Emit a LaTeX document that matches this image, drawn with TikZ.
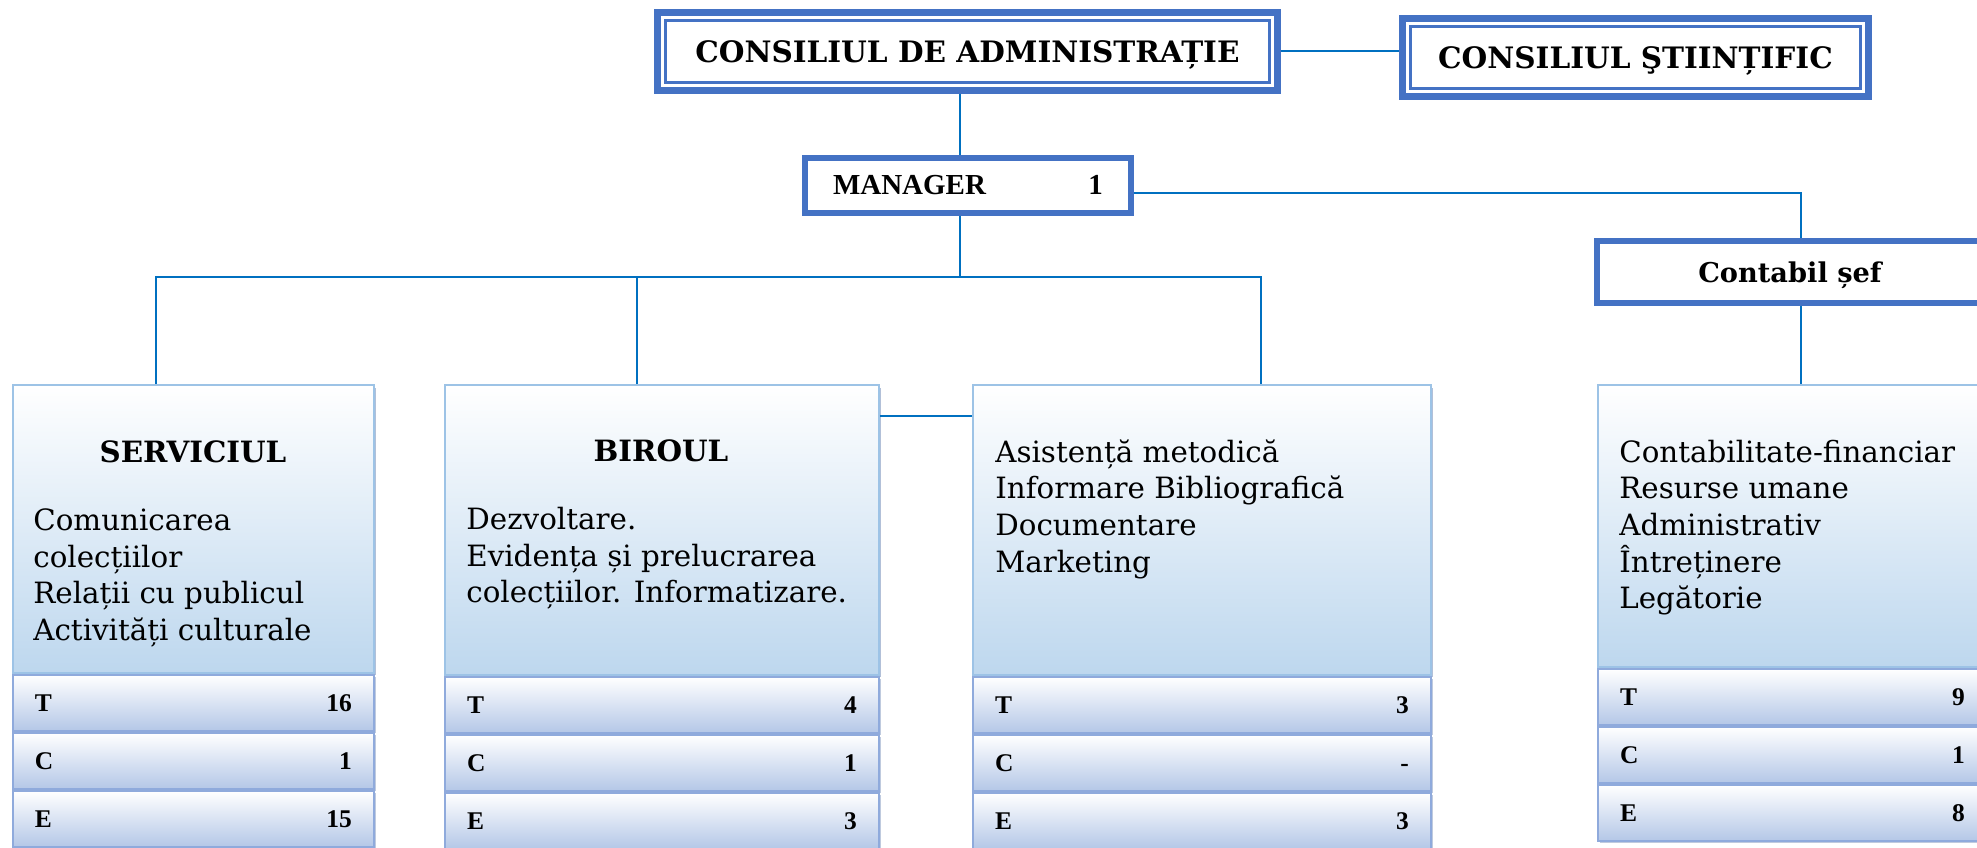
\documentclass[tikz,border=0pt]{standalone}
\usepackage{fontspec}
\setmainfont{DejaVu Serif}
\newfontfamily\tnr{Liberation Serif}
\usetikzlibrary{shadows}

\definecolor{frameblue}{HTML}{4472C4}
\definecolor{linkblue}{HTML}{0070C0}
\definecolor{boxedge}{HTML}{9DC3E6}
\definecolor{boxfill}{HTML}{BDD7EE}
\definecolor{rowedge}{HTML}{8FAADC}
\definecolor{rowfill}{HTML}{B4C7E7}
\definecolor{shadowblue}{HTML}{7F96BE}

\tikzset{
  council/.style={draw=frameblue, line width=0.14cm, fill=white, anchor=north west, inner sep=0pt,
    text depth=0pt, font=\fontsize{16.8}{19}\selectfont\bfseries},
  inframe/.style={draw=frameblue, line width=0.05cm},
  chief/.style={draw=frameblue, line width=0.12cm, fill=white, anchor=north west, inner sep=0pt},
  dept/.style={draw=boxedge, line width=0.04cm, top color=white, bottom color=boxfill, anchor=north west,
    inner sep=0pt, drop shadow={shadow xshift=0.05cm, shadow yshift=-0.05cm, fill=shadowblue, opacity=0.6}},
  staff/.style={draw=rowedge, line width=0.04cm, top color=white, bottom color=rowfill, anchor=north west,
    inner xsep=0.44cm, inner ysep=0pt, minimum height=1.12cm, align=left,
    drop shadow={shadow xshift=0.04cm, shadow yshift=-0.04cm, fill=shadowblue, opacity=0.5},
    font=\tnr\bfseries\fontsize{14.5}{16}\selectfont},
  head/.style={anchor=base, inner sep=0pt, font=\fontsize{16.7}{19}\selectfont\bfseries},
  item/.style={anchor=base west, inner sep=0pt, font=\fontsize{16.7}{19}\selectfont},
  link/.style={draw=linkblue, line width=0.04cm},
}

\begin{document}
\begin{tikzpicture}[x=0.02cm, y=-0.02cm]
\useasboundingbox (0,0) rectangle (1977,848);
\clip (0,0) rectangle (1977,848);

% councils
\node[council, minimum width=12.4cm, minimum height=1.56cm] (cda) at (654,9) {CONSILIUL DE ADMINISTRAȚIE};
\draw[inframe] ([shift={(11.5,11.5)}]cda.north west) rectangle ([shift={(-11.5,-11.5)}]cda.south east);
\node[council, minimum width=9.32cm, minimum height=1.56cm] (cs) at (1399,15) {CONSILIUL ŞTIINȚIFIC};
\draw[inframe] ([shift={(11.5,11.5)}]cs.north west) rectangle ([shift={(-11.5,-11.5)}]cs.south east);

% manager and chief accountant
\node[chief, text width=5.4cm, inner xsep=0.56cm, minimum height=1.10cm, align=left,
  font=\tnr\bfseries\fontsize{16.5}{19}\selectfont] (mgr) at (802,155) {MANAGER\hfill 1};
\node[chief, minimum width=7.72cm, minimum height=1.24cm, text depth=0pt,
  font=\fontsize{15.5}{18}\selectfont\bfseries] (cont) at (1594,238) {Contabil șef};

% departments
\node[dept, minimum width=7.22cm, minimum height=5.76cm] (serv) at (12,384) {};
\node[head] (servhd) at (193,462) {SERVICIUL};
\node[item] (serv1) at (33,530) {Comunicarea};
\node[item] (serv2) at (33,567) {colecțiilor};
\node[item] (serv3) at (33,603) {Relații cu publicul};
\node[item] (serv4) at (33,640) {Activități culturale};
\node[staff, text width=6.34cm] (servT) at (12,674) {T\hfill 16};
\node[staff, text width=6.34cm] (servC) at (12,732) {C\hfill 1};
\node[staff, text width=6.34cm] (servE) at (12,790) {E\hfill 15};

\node[dept, minimum width=8.68cm, minimum height=5.80cm] (bir) at (444,384) {};
\node[head] (birhd) at (661,461) {BIROUL};
\node[item] (bir1) at (466,529) {Dezvoltare.};
\node[item] (bir2) at (466,566) {Evidența și prelucrarea};
\node[item] (bir3) at (466,602) {colecțiilor. Informatizare.};
\node[staff, text width=7.80cm] (birT) at (444,676) {T\hfill 4};
\node[staff, text width=7.80cm] (birC) at (444,734) {C\hfill 1};
\node[staff, text width=7.80cm] (birE) at (444,792) {E\hfill 3};

\node[dept, minimum width=9.16cm, minimum height=5.80cm] (asist) at (972,384) {};
\node[item] (asist1) at (995,462) {Asistență metodică};
\node[item] (asist2) at (995,498) {Informare Bibliografică};
\node[item] (asist3) at (995,535) {Documentare};
\node[item] (asist4) at (995,572) {Marketing};
\node[staff, text width=8.28cm] (asistT) at (972,676) {T\hfill 3};
\node[staff, text width=8.28cm] (asistC) at (972,734) {C\hfill -};
\node[staff, text width=8.28cm] (asistE) at (972,792) {E\hfill 3};

\node[dept, minimum width=7.78cm, minimum height=5.64cm] (contab) at (1597,384) {};
\node[item] (contab1) at (1619,462) {Contabilitate-financiar};
\node[item] (contab2) at (1619,498) {Resurse umane};
\node[item] (contab3) at (1619,535) {Administrativ};
\node[item] (contab4) at (1619,572) {Întreținere};
\node[item] (contab5) at (1619,608) {Legătorie};
\node[staff, text width=6.90cm] (contabT) at (1597,668) {T\hfill 9};
\node[staff, text width=6.90cm] (contabC) at (1597,726) {C\hfill 1};
\node[staff, text width=6.90cm] (contabE) at (1597,784) {E\hfill 8};

% connectors
\coordinate (bus) at (960,277);
\coordinate (elbow) at (1801,193);
\draw[link] (cda.east) -- (cda.east -| cs.west);
\draw[link] (cda.south -| bus) -- (mgr.north -| bus);
\draw[link] (mgr.south -| bus) -- (bus);
\draw[link] (bus) -| ([shift={(144,0)}]serv.north west);
\draw[link] (bus) -| ([shift={(193,0)}]bir.north west);
\draw[link] (bus) -| ([shift={(289,0)}]asist.north west);
\draw[link] ([shift={(0,32)}]bir.north east) -- ([shift={(0,32)}]asist.north west);
\draw[link] (mgr.east |- elbow) -- (elbow) -- (elbow |- cont.north);
\draw[link] (cont.south -| elbow) -- (contab.north -| elbow);

\end{tikzpicture}
\end{document}
